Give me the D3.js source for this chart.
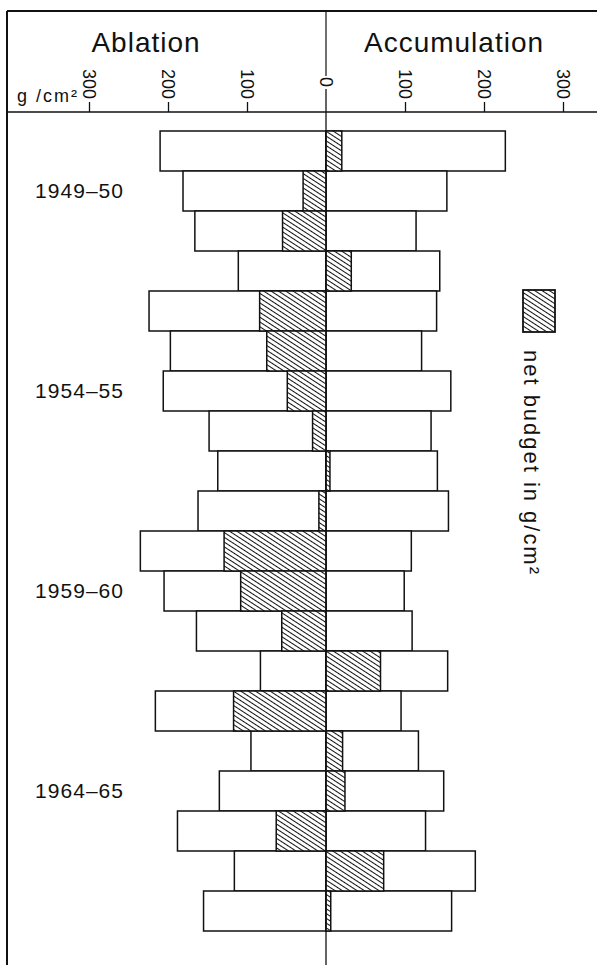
<!DOCTYPE html>
<html>
<head>
  <meta charset="utf-8">
  <script src="https://d3js.org/d3.v7.min.js"></script>
  <style>
    body { margin: 0; background: #fff; }
    text { font-family: "Liberation Sans", Arial, sans-serif; fill: #111; }
  </style>
</head>
<body>
<script>
  /*
    values, g/cm2 per budget year
  */
  var years = ["1948–49", "1949–50", "1950–51", "1951–52", "1952–53",
               "1953–54", "1954–55", "1955–56", "1956–57", "1957–58",
               "1958–59", "1959–60", "1960–61", "1961–62", "1962–63",
               "1963–64", "1964–65", "1965–66", "1966–67", "1967–68"];
  var labelledYears = ["1949–50", "1954–55", "1959–60", "1964–65"];
  var ablation =     [210, 181, 166, 111, 224, 197, 206, 148, 137, 162,
                      235, 205, 164,  83, 216,  95, 135, 188, 116, 155];
  var accumulation = [227, 153, 114, 144, 140, 121, 158, 133, 141, 155,
                      108,  99, 109, 154,  95, 117, 149, 126, 189, 159];
  var netBudget =    [ 20, -29, -55,  32, -84, -75, -49, -17,   5,  -9,
                     -129,-108, -56,  69,-117,  21,  24, -63,  73,   6];
  var tickValues = [-300, -200, -100, 0, 100, 200, 300];

  var width = 597,
      height = 965;

  var svg = d3.select("body")
    .append("svg")
      .attr("width", width)
      .attr("height", height);

  /* hatch for the net budget */
  var pat = svg.append("defs").append("pattern")
      .attr("id", "hatch")
      .attr("patternUnits", "userSpaceOnUse")
      .attr("width", 8)
      .attr("height", 4)
      .attr("patternTransform", "rotate(33)");
  pat.append("rect").attr("width", 8).attr("height", 4).attr("fill", "#fff");
  pat.append("line")
      .attr("x1", 0).attr("x2", 8).attr("y1", 0.5).attr("y2", 0.5)
      .attr("stroke", "#111").attr("stroke-width", 1);

  var x = d3.scaleLinear().domain([-300, 300]).range([89, 563]);
  var y = d3.scaleBand().domain(years).range([131, 931]).padding(0);

  /*
    frame and header
  */
  var frame = svg.append("g").attr("stroke", "#111").attr("fill", "none");
  frame.append("line").attr("x1", 7).attr("x2", width).attr("y1", 11).attr("y2", 11).attr("stroke-width", 2);
  frame.append("line").attr("x1", 7).attr("x2", 7).attr("y1", 11).attr("y2", height).attr("stroke-width", 2);
  frame.append("line").attr("x1", 7).attr("x2", width).attr("y1", 112).attr("y2", 112).attr("stroke-width", 1.5);
  frame.append("line").attr("x1", x(0)).attr("x2", x(0)).attr("y1", 11).attr("y2", 76).attr("stroke-width", 1.2);

  svg.append("text").attr("x", 146).attr("y", 52)
      .attr("text-anchor", "middle").style("font-size", "28px")
      .style("letter-spacing", "1px").text("Ablation");
  svg.append("text").attr("x", 454).attr("y", 52)
      .attr("text-anchor", "middle").style("font-size", "28px")
      .style("letter-spacing", "1px").text("Accumulation");

  svg.append("text").attr("x", 17).attr("y", 102)
      .attr("textLength", 60).attr("lengthAdjust", "spacing")
      .style("font-size", "18px").text("g /cm²");

  /*
    top axis, labels turned on their side
  */
  var axis = svg.append("g")
      .attr("transform", "translate(0,112)")
      .call(d3.axisTop(x)
        .tickValues(tickValues)
        .tickSize(10)
        .tickFormat(function (d) { return Math.abs(d); }));
  axis.select(".domain").remove();
  axis.selectAll(".tick line").attr("stroke", "#111").attr("stroke-width", 1.3)
      .filter(function (d) { return d === 0; }).remove();
  axis.selectAll(".tick text")
      .attr("transform", "rotate(90)")
      .attr("text-anchor", "end")
      .attr("x", function (d) { return d === 0 ? -25 : -13; })
      .attr("y", 0)
      .attr("dy", "0.36em")
      .style("font-size", "18px")
      .style("font-family", "'Liberation Sans', Arial, sans-serif")
      .attr("fill", "#111");

  /*
    bars
  */
  var rows = years.map(function (yr, i) {
    return { year: yr, abl: ablation[i], acc: accumulation[i], net: netBudget[i] };
  });

  var bars = svg.append("g").attr("stroke", "#111").attr("stroke-width", 1.5);

  bars.selectAll(".abl").data(rows).enter().append("rect")
      .attr("class", "abl")
      .attr("x", function (d) { return x(-d.abl); })
      .attr("width", function (d) { return x(0) - x(-d.abl); })
      .attr("y", function (d) { return y(d.year); })
      .attr("height", y.bandwidth())
      .attr("fill", "#fff");

  bars.selectAll(".acc").data(rows).enter().append("rect")
      .attr("class", "acc")
      .attr("x", x(0))
      .attr("width", function (d) { return x(d.acc) - x(0); })
      .attr("y", function (d) { return y(d.year); })
      .attr("height", y.bandwidth())
      .attr("fill", "#fff");

  bars.selectAll(".net").data(rows).enter().append("rect")
      .attr("class", "net")
      .attr("x", function (d) { return x(Math.min(0, d.net)); })
      .attr("width", function (d) { return Math.abs(x(d.net) - x(0)); })
      .attr("y", function (d) { return y(d.year); })
      .attr("height", y.bandwidth())
      .attr("fill", "url(#hatch)");

  /* zero line runs through to the bottom */
  svg.append("line")
      .attr("x1", x(0)).attr("x2", x(0)).attr("y1", 89).attr("y2", height)
      .attr("stroke", "#111").attr("stroke-width", 1.3);

  /*
    year labels
  */
  svg.selectAll(".yr").data(labelledYears).enter().append("text")
      .attr("class", "yr")
      .attr("x", 35)
      .attr("y", function (d) { return y(d) + y.bandwidth() / 2 + 7; })
      .attr("textLength", 88).attr("lengthAdjust", "spacing")
      .style("font-size", "21px")
      .text(function (d) { return d; });

  /*
    legend
  */
  svg.append("rect")
      .attr("x", 523).attr("y", 290).attr("width", 32).attr("height", 42)
      .attr("fill", "url(#hatch)").attr("stroke", "#111").attr("stroke-width", 1.8);
  svg.append("text")
      .attr("transform", "translate(524,350) rotate(90)")
      .attr("textLength", 224).attr("lengthAdjust", "spacing")
      .style("font-size", "22px")
      .text("net budget in g/cm²");
</script>
</body>
</html>
